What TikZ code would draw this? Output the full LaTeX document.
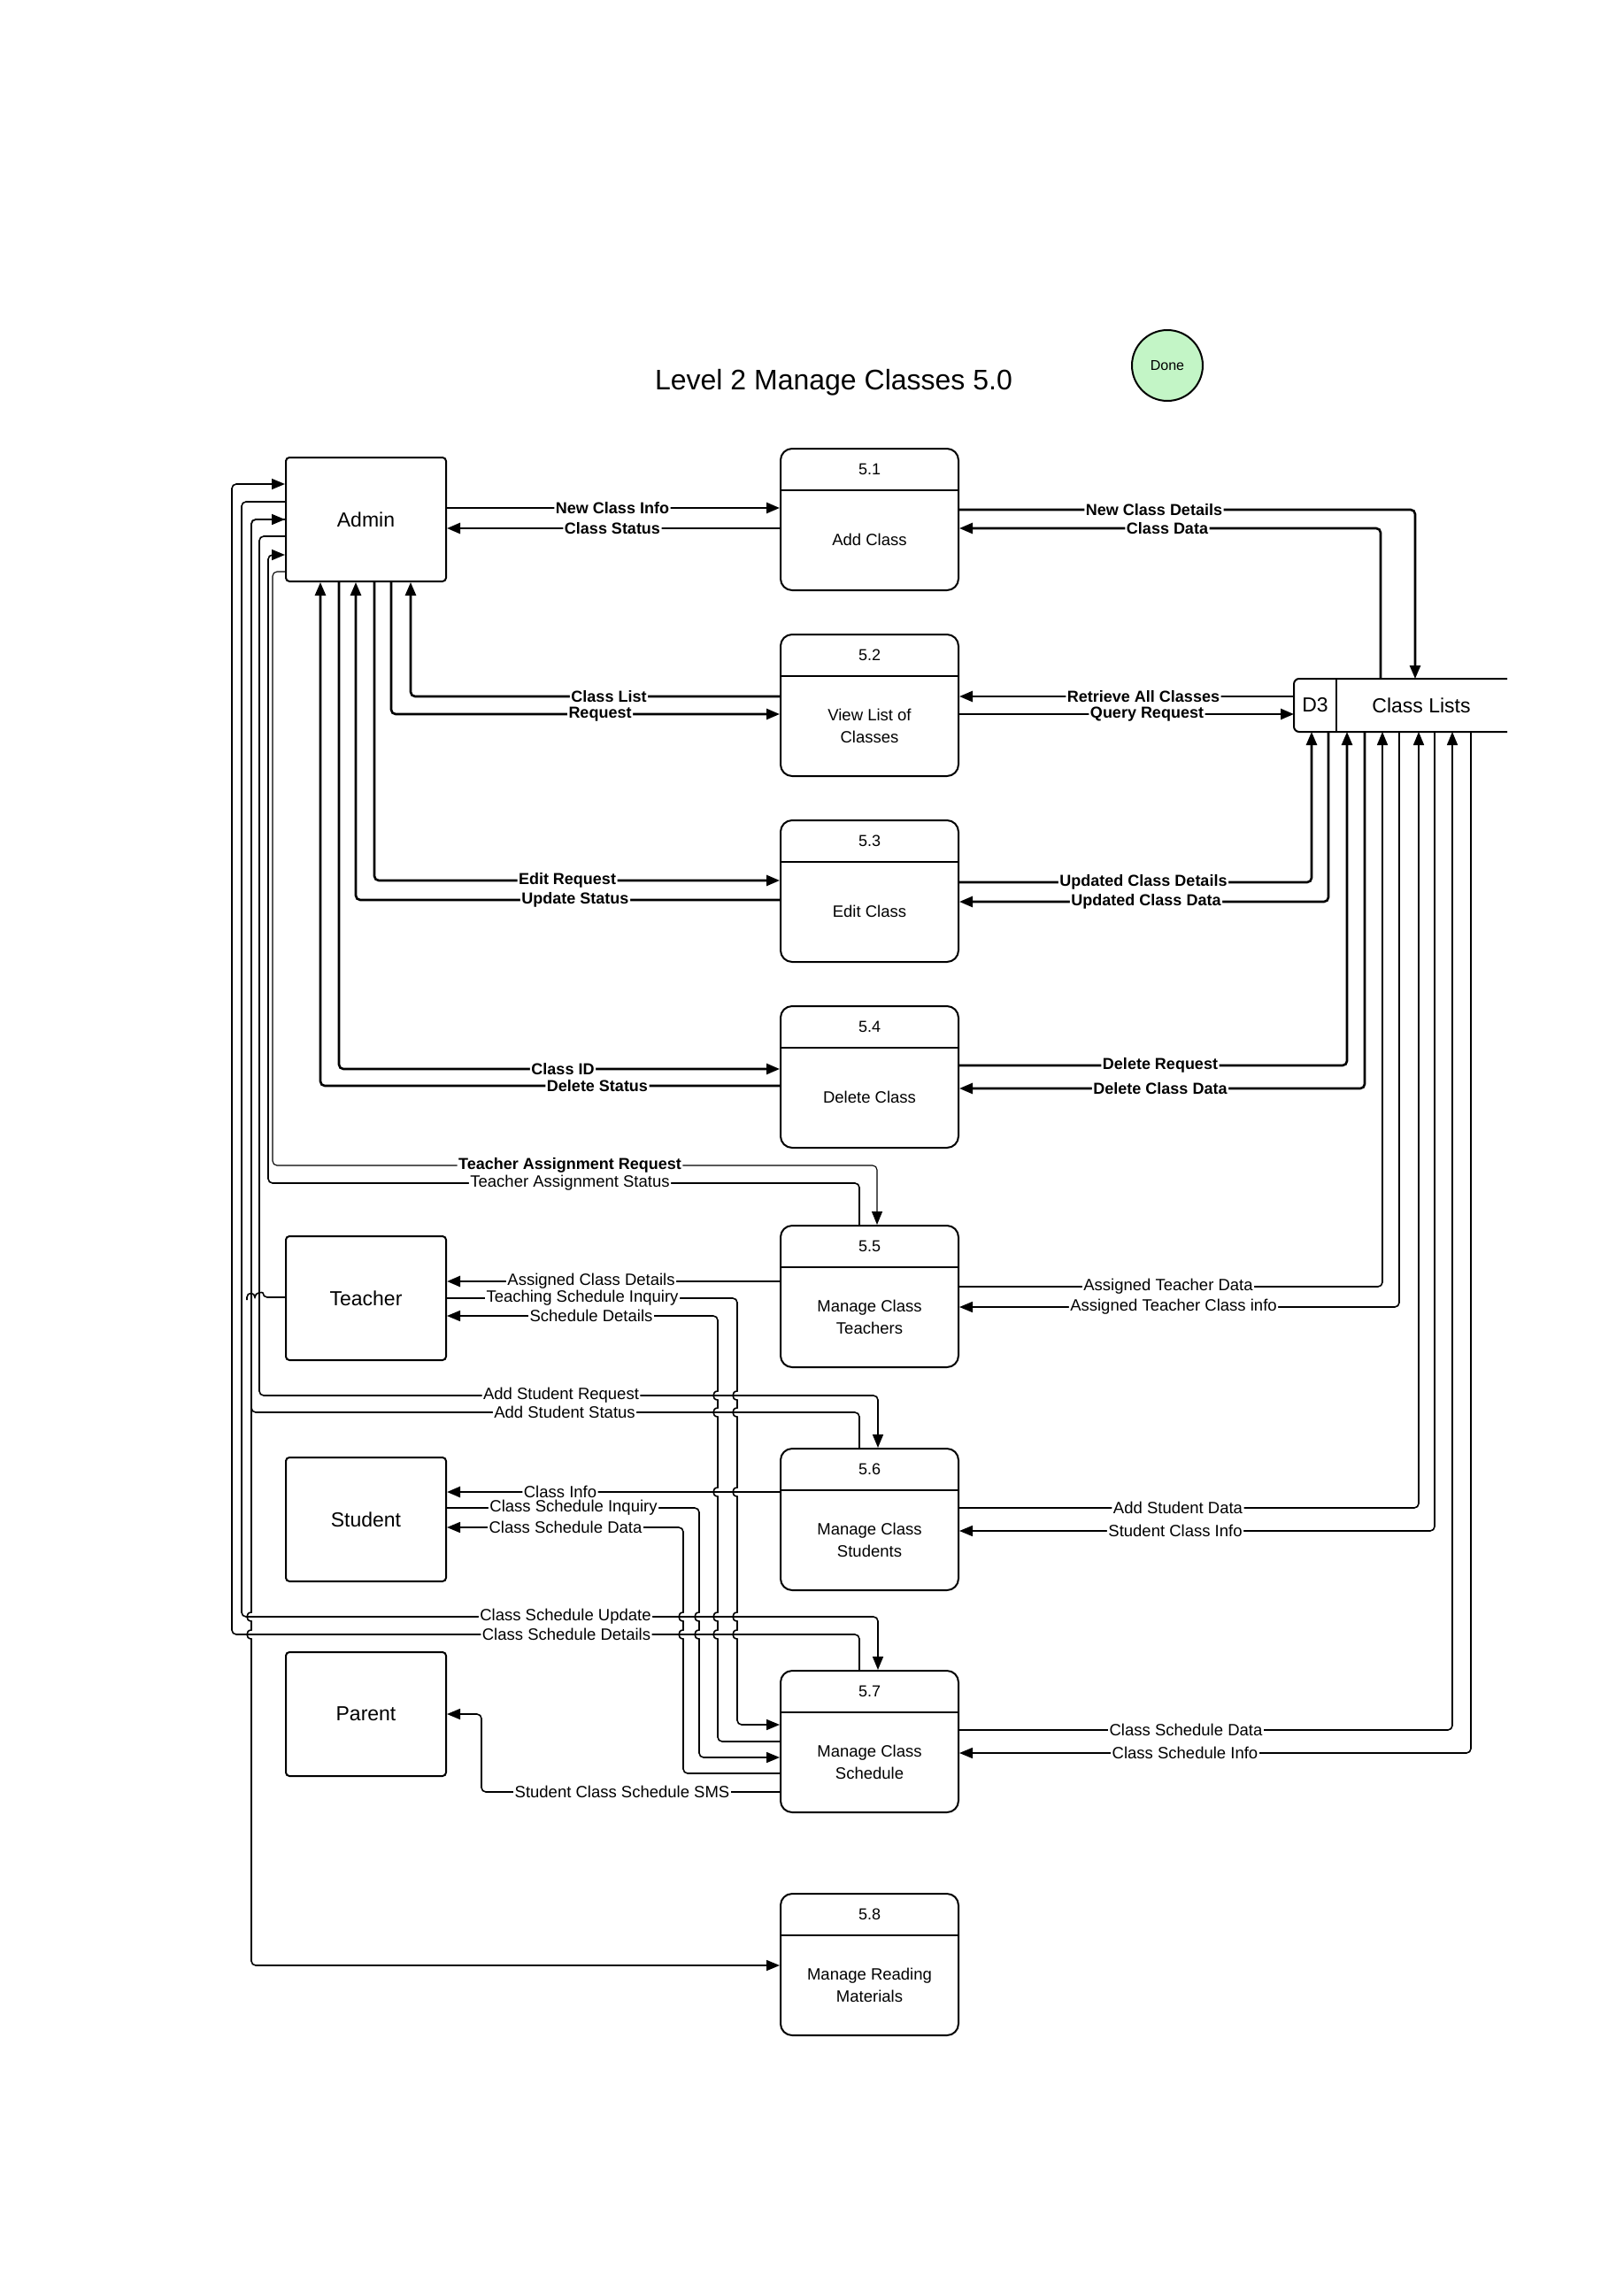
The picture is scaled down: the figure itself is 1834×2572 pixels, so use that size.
\documentclass[tikz,border=0pt]{standalone}
\usepackage{fontspec}
\setmainfont{Liberation Sans}
\usepackage{xcolor}
\usetikzlibrary{arrows.meta,positioning,calc}

\definecolor{donegreen}{HTML}{C3F5C6}

\tikzset{
  ent/.style={draw, line width=2pt, rounded corners=4pt, minimum width=181pt, minimum height=140pt, inner sep=0pt, font=\fontsize{23}{27}\selectfont},
  procbox/.style={draw, line width=2pt, rounded corners=13pt, minimum width=201pt, minimum height=160pt, inner sep=0pt},
  pnum/.style={font=\fontsize{18}{22}\selectfont},
  ptext/.style={font=\fontsize{18.5}{25}\selectfont, align=center},
  lbl/.style={fill=white, inner sep=1.5pt, font=\fontsize{18.5}{20}\selectfont},
  blbl/.style={fill=white, inner sep=1.5pt, font=\fontsize{18}{20}\selectfont\bfseries},
  flow/.style={line width=1.6pt, rounded corners=5pt},
  bflow/.style={line width=2.6pt, rounded corners=5pt},
  tip/.style={-{Triangle[length=15pt,width=12pt]}},
}

\begin{document}
\begin{tikzpicture}[x=1pt, y=-1pt]
\fill[white] (0,0) rectangle (1834,2572);
\useasboundingbox (0,0) rectangle (1834,2572);

\node[font=\fontsize{32}{36}\selectfont] (title) at (942,432) {Level 2 Manage Classes 5.0};
\node[circle, draw, line width=2pt, fill=donegreen, minimum size=80pt, inner sep=0pt, font=\fontsize{16}{18}\selectfont] (done) at (1319,413) {Done};

% external entities
\node[ent] (admin) at (413.5,587) {Admin};
\node[ent] (teacher) at (413.5,1467) {Teacher};
\node[ent] (student) at (413.5,1717) {Student};
\node[ent] (parent) at (413.5,1937) {Parent};

% processes
\foreach \n/\ytop/\txt in {1/507/{Add Class}, 2/717/{View List of\\Classes}, 3/927/{Edit Class}, 4/1137/{Delete Class}, 5/1385/{Manage Class\\Teachers}, 6/1637/{Manage Class\\Students}, 7/1888/{Manage Class\\Schedule}, 8/2140/{Manage Reading\\Materials}}{
  \node[procbox] (p\n) at (982.5,\ytop+80) {};
  \draw[line width=2pt] ($(p\n.north west)+(0,48)$) -- ($(p\n.north east)+(0,48)$);
  \node[pnum] at ($(p\n.north)+(0,24)$) {5.\n};
  \node[ptext] at ($(p\n.north)+(0,104)$) {\txt};
}

% data store
\node[minimum width=241pt, minimum height=60pt, inner sep=0pt, outer sep=0pt] (d3) at (1582.5,797) {};
\draw[line width=2pt, rounded corners=6pt] (d3.north east) -- (d3.north west) -- (d3.south west) -- (d3.south east);
\draw[line width=2pt] (d3.north -| 1510,0) -- (d3.south -| 1510,0);
\node[font=\fontsize{23}{27}\selectfont] (d3id) at (1486,797) {D3};
\node[font=\fontsize{23}{27}\selectfont] (d3name) at (1606,797) {Class Lists};

% class record flows
\draw[bflow,tip] (admin.east |- 0,574) -- (p1.west |- 0,574) node[blbl] at (692,574) {New Class Info};
\draw[bflow,tip] (p1.west |- 0,597) -- (admin.east |- 0,597) node[blbl] at (692,597) {Class Status};
\draw[bflow,tip] (p1.east |- 0,576) -| (d3.north -| 1599,0) node[blbl] at (1304,576) {New Class Details};
\draw[bflow,tip] (d3.north -| 1560,0) |- (p1.east |- 0,597) node[blbl] at (1319,597) {Class Data};
\draw[bflow,tip] (p2.west |- 0,787) -| (admin.south -| 464,0) node[blbl] at (688,787) {Class List};
\draw[bflow,tip] (admin.south -| 442,0) |- (p2.west |- 0,807) node[blbl] at (678,807) {Request};
\draw[bflow,tip] (d3.west |- 0,787) -- (p2.east |- 0,787) node[blbl] at (1292,787) {Retrieve All Classes};
\draw[bflow,tip] (p2.east |- 0,807) -- (d3.west |- 0,807) node[blbl] at (1296,807) {Query Request};
\draw[bflow,tip] (admin.south -| 423,0) |- (p3.west |- 0,995) node[blbl] at (641,995) {Edit Request};
\draw[bflow,tip] (p3.west |- 0,1017) -| (admin.south -| 402,0) node[blbl] at (650,1017) {Update Status};
\draw[bflow,tip] (p3.east |- 0,997) -| (d3.south -| 1482,0) node[blbl] at (1292,997) {Updated Class Details};
\draw[bflow,tip] (d3.south -| 1501,0) |- (p3.east |- 0,1019) node[blbl] at (1295,1019) {Updated Class Data};
\draw[bflow,tip] (admin.south -| 383,0) |- (p4.west |- 0,1208) node[blbl] at (636,1208) {Class ID};
\draw[bflow,tip] (p4.west |- 0,1227) -| (admin.south -| 362,0) node[blbl] at (675,1227) {Delete Status};
\draw[bflow,tip] (p4.east |- 0,1204) -| (d3.south -| 1522,0) node[blbl] at (1311,1204) {Delete Request};
\draw[bflow,tip] (d3.south -| 1542,0) |- (p4.east |- 0,1230) node[blbl] at (1311,1230) {Delete Class Data};

% teacher flows
\draw[line width=1.1pt, rounded corners=5pt, tip] (admin.west |- 0,646) -- (308,646) |- (991,1317) -- (p5.north -| 991,0) node[blbl] at (644,1317) {Teacher Assignment Request};
\draw[flow,tip] (p5.north -| 971,0) |- (303,1337) |- (admin.west |- 0,627) node[lbl] at (644,1337) {Teacher Assignment Status};
\draw[bflow,tip] (p5.west |- 0,1448) -- (teacher.east |- 0,1448) node[lbl] at (668,1448) {Assigned Class Details};
\draw[flow,tip] (teacher.east |- 0,1467) -- (833,1467) -- (833,1540) [sharp corners]
  foreach \h in {1577,1596,1686,1827,1847}{ -- (833,\h-5) .. controls (826.3,\h-5) and (826.3,\h+5) .. (833,\h+5) }
  -- (833,1880) [rounded corners=5pt] -- (833,1949) -- (p7.west |- 0,1949) node[lbl] at (658,1467) {Teaching Schedule Inquiry};
\draw[flow,tip] (p7.west |- 0,1968) -- (811,1968) -- (811,1880) [sharp corners]
  foreach \h in {1847,1827,1686,1596,1577}{ -- (811,\h+5) .. controls (804.3,\h+5) and (804.3,\h-5) .. (811,\h-5) }
  -- (811,1540) [rounded corners=5pt] -- (811,1487) -- (teacher.east |- 0,1487) node[lbl] at (668,1487) {Schedule Details};
\draw[flow,tip] (p5.east |- 0,1454) -| (d3.south -| 1562,0) node[lbl] at (1320,1454) {Assigned Teacher Data};
\draw[flow,tip] (d3.south -| 1581,0) |- (p5.east |- 0,1477) node[lbl] at (1326,1477) {Assigned Teacher Class info};
\coordinate (tstub) at (279,1469);
\draw[flow] (teacher.west |- 0,1466) -- (297,1466) [sharp corners] .. controls (297,1460) and (288,1460) .. (288,1466) .. controls (288,1460) and (279,1460) .. (279,1466) -- (tstub);

% student flows
\draw[flow,tip] (admin.west |- 0,606) -- (293,606) |- (992,1577) -- (p6.north -| 992,0) node[lbl] at (634,1577) {Add Student Request};
\draw[flow,tip] (p6.north -| 971,0) |- (284,1596) |- (admin.west |- 0,587) node[lbl] at (638,1596) {Add Student Status};
\draw[bflow,tip] (p6.west |- 0,1686) -- (student.east |- 0,1686) node[lbl] at (633,1686) {Class Info};
\draw[flow,tip] (student.east |- 0,1704) -- (790,1704) -- (790,1790) [sharp corners]
  foreach \h in {1827,1847}{ -- (790,\h-5) .. controls (783.3,\h-5) and (783.3,\h+5) .. (790,\h+5) }
  -- (790,1880) [rounded corners=5pt] -- (790,1986) -- (p7.west |- 0,1986) node[lbl] at (648,1704) {Class Schedule Inquiry};
\draw[flow,tip] (p7.west |- 0,2004) -- (772,2004) -- (772,1880) [sharp corners]
  foreach \h in {1847,1827}{ -- (772,\h+5) .. controls (765.3,\h+5) and (765.3,\h-5) .. (772,\h-5) }
  -- (772,1790) [rounded corners=5pt] -- (772,1726) -- (student.east |- 0,1726) node[lbl] at (639,1726) {Class Schedule Data};
\draw[flow,tip] (p6.east |- 0,1704) -| (d3.south -| 1603,0) node[lbl] at (1331,1704) {Add Student Data};
\draw[flow,tip] (d3.south -| 1621,0) |- (p6.east |- 0,1730) node[lbl] at (1328,1730) {Student Class Info};

% schedule flows
\draw[flow,tip] (admin.west |- 0,567) -- (273,567) |- (992,1827) -- (p7.north -| 992,0) node[lbl] at (639,1827) {Class Schedule Update};
\draw[flow,tip] (p7.north -| 971,0) |- (262,1847) |- (admin.west |- 0,547) node[lbl] at (640,1847) {Class Schedule Details};
\draw[flow,tip] (p7.east |- 0,1955) -| (d3.south -| 1641,0) node[lbl] at (1340,1955) {Class Schedule Data};
\draw[flow,tip] (d3.south -| 1662,0) |- (p7.east |- 0,1981) node[lbl] at (1339,1981) {Class Schedule Info};
\draw[flow,tip] (p7.west |- 0,2025) -| (544,1937) -- (parent.east |- 0,1937) node[lbl] at (703,2025) {Student Class Schedule SMS};

% reading materials
\draw[flow,tip] (admin.west |- 0,587) -- (284,587) -- (284,1790) [sharp corners]
  foreach \h in {1827,1847}{ -- (284,\h-5) .. controls (277.3,\h-5) and (277.3,\h+5) .. (284,\h+5) }
  -- (284,1880) [rounded corners=5pt] -- (284,2221) -- (p8.west |- 0,2221);
\end{tikzpicture}
\end{document}
